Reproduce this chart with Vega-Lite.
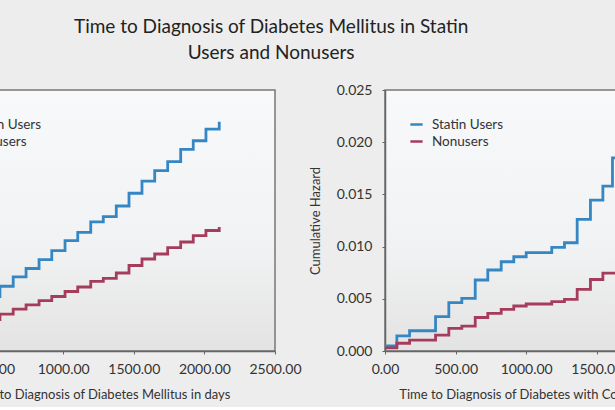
{
  "$schema": "https://vega.github.io/schema/vega-lite/v6.json",
  "padding": {"left": -155, "top": 18, "right": -146, "bottom": 5},
  "background": "#ededed",
  "title": {
    "text": ["Time to Diagnosis of Diabetes Mellitus in Statin", "Users and Nonusers"],
    "font": "Lato", "fontSize": 19, "fontWeight": "normal", "color": "#222222",
    "lineHeight": 26, "anchor": "middle", "offset": 19, "dx": -34
  },
  "spacing": 110,
  "bounds": "flush",
  "resolve": {"scale": {"color": "independent"}, "legend": {"color": "independent"}},
  "config": {
    "font": "Lato",
    "view": {"stroke": "#777777", "strokeWidth": 1.5,
             "fill": {"gradient": "linear", "x1": 0, "y1": 0, "x2": 0, "y2": 1,
                      "stops": [{"offset": 0, "color": "#f8f9fa"}, {"offset": 0.6, "color": "#f1f2f3"}, {"offset": 1, "color": "#e3e3e3"}]}},
    "axis": {
      "grid": false, "labelFont": "Lato", "labelFontSize": 14, "labelColor": "#333333",
      "labelOverlap": false, "labelBound": false, "labelFlush": false,
      "titleFont": "Lato", "titleFontSize": 13, "titleFontWeight": "normal", "titleColor": "#333333",
      "domainColor": "#666666", "tickColor": "#666666", "tickSize": 3, "domainWidth": 1.5
    },
    "legend": {
      "labelFont": "Lato", "labelFontSize": 13.5, "labelColor": "#333333",
      "symbolType": "stroke", "symbolStrokeWidth": 2.5, "symbolSize": 150,
      "rowPadding": 3, "labelOffset": 8
    }
  },
  "datasets": {
    "left": [
      {"day": 0, "hazard": 0.0005, "group": "Statin Users"},
      {"day": 95, "hazard": 0.0013, "group": "Statin Users"},
      {"day": 187, "hazard": 0.0022, "group": "Statin Users"},
      {"day": 278, "hazard": 0.0031, "group": "Statin Users"},
      {"day": 370, "hazard": 0.0041, "group": "Statin Users"},
      {"day": 461, "hazard": 0.0052, "group": "Statin Users"},
      {"day": 552, "hazard": 0.0062, "group": "Statin Users"},
      {"day": 646, "hazard": 0.0071, "group": "Statin Users"},
      {"day": 737, "hazard": 0.0079, "group": "Statin Users"},
      {"day": 829, "hazard": 0.00876, "group": "Statin Users"},
      {"day": 919, "hazard": 0.00961, "group": "Statin Users"},
      {"day": 1013, "hazard": 0.01057, "group": "Statin Users"},
      {"day": 1103, "hazard": 0.01137, "group": "Statin Users"},
      {"day": 1195, "hazard": 0.01236, "group": "Statin Users"},
      {"day": 1284, "hazard": 0.01288, "group": "Statin Users"},
      {"day": 1376, "hazard": 0.01389, "group": "Statin Users"},
      {"day": 1466, "hazard": 0.01511, "group": "Statin Users"},
      {"day": 1558, "hazard": 0.01628, "group": "Statin Users"},
      {"day": 1648, "hazard": 0.01727, "group": "Statin Users"},
      {"day": 1740, "hazard": 0.01813, "group": "Statin Users"},
      {"day": 1832, "hazard": 0.01932, "group": "Statin Users"},
      {"day": 1921, "hazard": 0.02014, "group": "Statin Users"},
      {"day": 2011, "hazard": 0.02126, "group": "Statin Users"},
      {"day": 2105, "hazard": 0.02196, "group": "Statin Users"},
      {"day": 0, "hazard": 0.0003, "group": "Nonusers"},
      {"day": 95, "hazard": 0.0008, "group": "Nonusers"},
      {"day": 187, "hazard": 0.0013, "group": "Nonusers"},
      {"day": 278, "hazard": 0.0019, "group": "Nonusers"},
      {"day": 370, "hazard": 0.0024, "group": "Nonusers"},
      {"day": 461, "hazard": 0.0030, "group": "Nonusers"},
      {"day": 552, "hazard": 0.00354, "group": "Nonusers"},
      {"day": 646, "hazard": 0.00402, "group": "Nonusers"},
      {"day": 737, "hazard": 0.00441, "group": "Nonusers"},
      {"day": 829, "hazard": 0.00482, "group": "Nonusers"},
      {"day": 919, "hazard": 0.00522, "group": "Nonusers"},
      {"day": 1013, "hazard": 0.0057, "group": "Nonusers"},
      {"day": 1103, "hazard": 0.00613, "group": "Nonusers"},
      {"day": 1195, "hazard": 0.00666, "group": "Nonusers"},
      {"day": 1284, "hazard": 0.00696, "group": "Nonusers"},
      {"day": 1376, "hazard": 0.00747, "group": "Nonusers"},
      {"day": 1466, "hazard": 0.00819, "group": "Nonusers"},
      {"day": 1558, "hazard": 0.00881, "group": "Nonusers"},
      {"day": 1648, "hazard": 0.00929, "group": "Nonusers"},
      {"day": 1740, "hazard": 0.00991, "group": "Nonusers"},
      {"day": 1832, "hazard": 0.01044, "group": "Nonusers"},
      {"day": 1921, "hazard": 0.01106, "group": "Nonusers"},
      {"day": 2011, "hazard": 0.01154, "group": "Nonusers"},
      {"day": 2105, "hazard": 0.01188, "group": "Nonusers"}
    ],
    "right": [
      {"day": 0, "hazard": 0.0005, "group": "Statin Users"},
      {"day": 84, "hazard": 0.00144, "group": "Statin Users"},
      {"day": 174, "hazard": 0.00194, "group": "Statin Users"},
      {"day": 358, "hazard": 0.00329, "group": "Statin Users"},
      {"day": 452, "hazard": 0.00463, "group": "Statin Users"},
      {"day": 544, "hazard": 0.00505, "group": "Statin Users"},
      {"day": 639, "hazard": 0.0068, "group": "Statin Users"},
      {"day": 728, "hazard": 0.00776, "group": "Statin Users"},
      {"day": 823, "hazard": 0.00855, "group": "Statin Users"},
      {"day": 912, "hazard": 0.00903, "group": "Statin Users"},
      {"day": 1000, "hazard": 0.00942, "group": "Statin Users"},
      {"day": 1181, "hazard": 0.00993, "group": "Statin Users"},
      {"day": 1271, "hazard": 0.01037, "group": "Statin Users"},
      {"day": 1361, "hazard": 0.01261, "group": "Statin Users"},
      {"day": 1455, "hazard": 0.01446, "group": "Statin Users"},
      {"day": 1543, "hazard": 0.0158, "group": "Statin Users"},
      {"day": 1611, "hazard": 0.0185, "group": "Statin Users"},
      {"day": 1740, "hazard": 0.0195, "group": "Statin Users"},
      {"day": 1830, "hazard": 0.0203, "group": "Statin Users"},
      {"day": 1920, "hazard": 0.0210, "group": "Statin Users"},
      {"day": 2010, "hazard": 0.0216, "group": "Statin Users"},
      {"day": 2105, "hazard": 0.0222, "group": "Statin Users"},
      {"day": 0, "hazard": 0.0003, "group": "Nonusers"},
      {"day": 84, "hazard": 0.00074, "group": "Nonusers"},
      {"day": 174, "hazard": 0.00105, "group": "Nonusers"},
      {"day": 358, "hazard": 0.00153, "group": "Nonusers"},
      {"day": 452, "hazard": 0.00217, "group": "Nonusers"},
      {"day": 544, "hazard": 0.00239, "group": "Nonusers"},
      {"day": 639, "hazard": 0.00321, "group": "Nonusers"},
      {"day": 728, "hazard": 0.00361, "group": "Nonusers"},
      {"day": 823, "hazard": 0.00399, "group": "Nonusers"},
      {"day": 912, "hazard": 0.00431, "group": "Nonusers"},
      {"day": 1000, "hazard": 0.0045, "group": "Nonusers"},
      {"day": 1181, "hazard": 0.00472, "group": "Nonusers"},
      {"day": 1271, "hazard": 0.00495, "group": "Nonusers"},
      {"day": 1361, "hazard": 0.00591, "group": "Nonusers"},
      {"day": 1455, "hazard": 0.00685, "group": "Nonusers"},
      {"day": 1543, "hazard": 0.00745, "group": "Nonusers"},
      {"day": 1650, "hazard": 0.0079, "group": "Nonusers"},
      {"day": 1740, "hazard": 0.0083, "group": "Nonusers"},
      {"day": 1830, "hazard": 0.0087, "group": "Nonusers"},
      {"day": 1920, "hazard": 0.0091, "group": "Nonusers"},
      {"day": 2010, "hazard": 0.0095, "group": "Nonusers"},
      {"day": 2105, "hazard": 0.0098, "group": "Nonusers"}
    ]
  },
  "hconcat": [
    {
      "width": 353, "height": 261,
      "data": {"name": "left"},
      "mark": {"type": "line", "interpolate": "step-after", "strokeWidth": 2.8},
      "encoding": {
        "x": {"field": "day", "type": "quantitative", "scale": {"domain": [0, 2500], "nice": false},
              "axis": {"title": "Time to Diagnosis of Diabetes Mellitus in days", "values": [0, 500, 1000, 1500, 2000, 2500], "format": ".2f", "labelPadding": 8, "titlePadding": 12}},
        "y": {"field": "hazard", "type": "quantitative", "scale": {"domain": [0, 0.025], "nice": false},
              "axis": {"title": "Cumulative Hazard", "values": [0, 0.005, 0.01, 0.015, 0.02, 0.025], "format": ".3f", "labelPadding": 10, "titlePadding": 14}},
        "color": {"field": "group", "type": "nominal",
                  "scale": {"domain": ["Statin Users", "Nonusers"], "range": ["#3587c4", "#a63c5c"]},
                  "legend": {"title": null, "orient": "none", "legendX": 25, "legendY": 27}}
      }
    },
    {
      "width": 353, "height": 261,
      "data": {"name": "right"},
      "mark": {"type": "line", "interpolate": "step-after", "strokeWidth": 2.8},
      "encoding": {
        "x": {"field": "day", "type": "quantitative", "scale": {"domain": [0, 2500], "nice": false},
              "axis": {"title": "Time to Diagnosis of Diabetes with Comorbidities in days", "values": [0, 500, 1000, 1500, 2000, 2500], "format": ".2f", "labelPadding": 8, "titlePadding": 12}},
        "y": {"field": "hazard", "type": "quantitative", "scale": {"domain": [0, 0.025], "nice": false},
              "axis": {"title": "Cumulative Hazard", "values": [0, 0.005, 0.01, 0.015, 0.02, 0.025], "format": ".3f", "labelPadding": 10, "titlePadding": 14}},
        "color": {"field": "group", "type": "nominal",
                  "scale": {"domain": ["Statin Users", "Nonusers"], "range": ["#3587c4", "#a63c5c"]},
                  "legend": {"title": null, "orient": "none", "legendX": 24, "legendY": 27}}
      }
    }
  ]
}
